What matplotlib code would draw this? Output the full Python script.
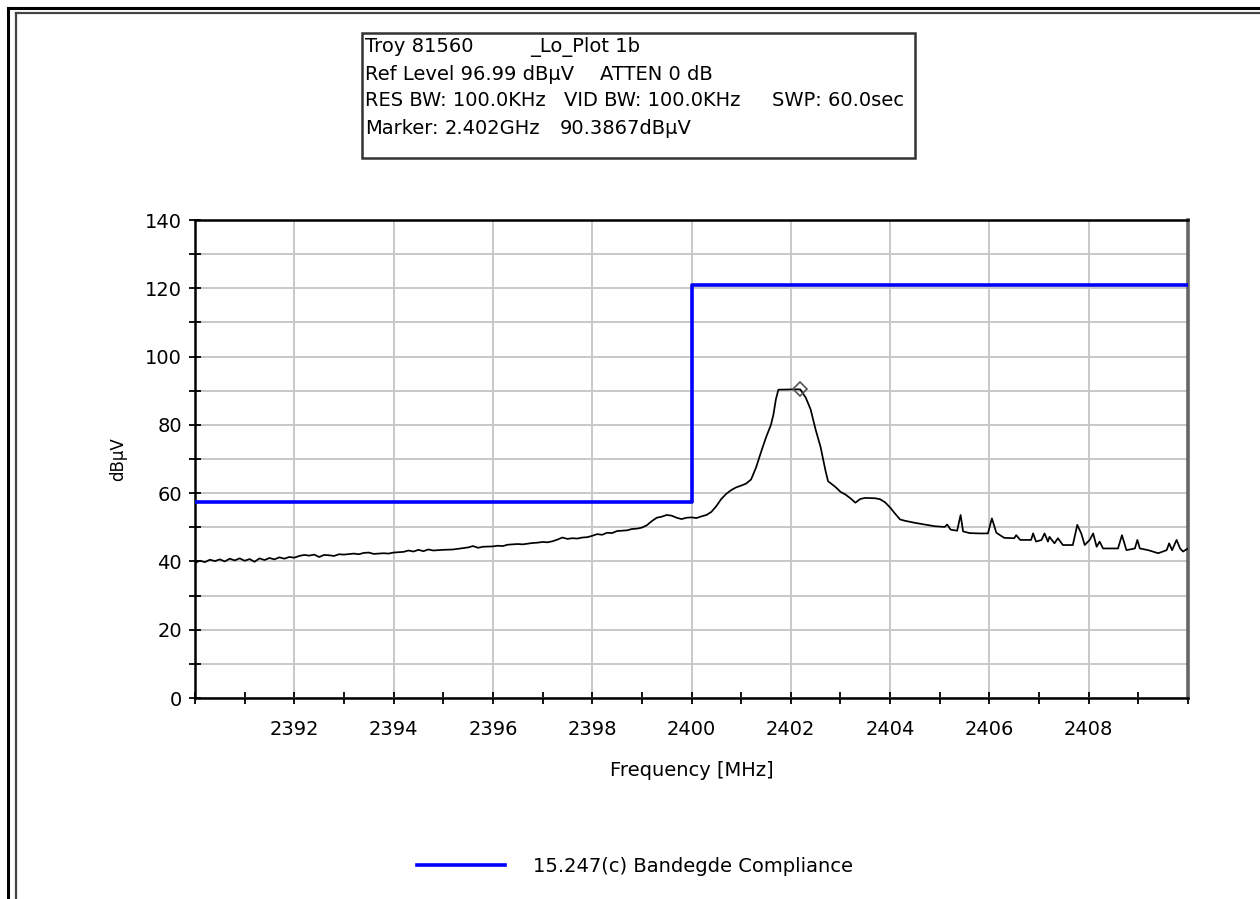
import matplotlib
matplotlib.use("Agg")
import matplotlib.pyplot as plt
from matplotlib.lines import Line2D
from matplotlib.patches import Rectangle
from matplotlib.ticker import MultipleLocator

# spectrum analyser sweep, bandedge low channel
freq_mhz = [
    2390.0, 2390.1, 2390.2, 2390.3, 2390.4, 2390.5, 2390.6, 2390.7, 2390.8, 2390.9,
    2391.0, 2391.1, 2391.2, 2391.3, 2391.4, 2391.5, 2391.6, 2391.7, 2391.8, 2391.9,
    2392.0, 2392.1, 2392.2, 2392.3, 2392.4, 2392.5, 2392.6, 2392.7, 2392.8, 2392.9,
    2393.0, 2393.2, 2393.3, 2393.4, 2393.5, 2393.6, 2393.8, 2393.9, 2394.0, 2394.2,
    2394.3, 2394.4, 2394.5, 2394.6, 2394.7, 2394.8, 2394.9, 2395.0, 2395.2, 2395.3,
    2395.4, 2395.5, 2395.6, 2395.7, 2395.8, 2396.0, 2396.1, 2396.2, 2396.3, 2396.4,
    2396.5, 2396.6, 2396.8, 2396.9, 2397.0, 2397.1, 2397.2, 2397.3, 2397.4, 2397.5,
    2397.6, 2397.7, 2397.8, 2397.9, 2398.0, 2398.1, 2398.2, 2398.3, 2398.4, 2398.5,
    2398.6, 2398.7, 2398.8, 2398.9, 2399.0, 2399.1, 2399.2, 2399.3, 2399.4, 2399.5,
    2399.6, 2399.7, 2399.8, 2399.9, 2400.0, 2400.1, 2400.2, 2400.3, 2400.4, 2400.5,
    2400.6, 2400.7, 2400.8, 2400.9, 2401.0, 2401.1, 2401.2, 2401.3, 2401.4, 2401.5,
    2401.6, 2401.65, 2401.7, 2401.75, 2402.1, 2402.19, 2402.3, 2402.4, 2402.5, 2402.6,
    2402.7, 2402.75, 2402.9, 2403.0, 2403.1, 2403.2, 2403.3, 2403.4, 2403.5, 2403.7,
    2403.8, 2403.9, 2404.0, 2404.1, 2404.2, 2404.3, 2404.5, 2404.7, 2404.9, 2405.1,
    2405.15, 2405.22, 2405.35, 2405.42, 2405.47, 2405.6, 2405.8, 2405.97, 2406.05, 2406.14,
    2406.3, 2406.5, 2406.54, 2406.62, 2406.84, 2406.88, 2406.94, 2407.05, 2407.11, 2407.18,
    2407.21, 2407.31, 2407.38, 2407.48, 2407.68, 2407.77, 2407.85, 2407.92, 2408.02, 2408.09,
    2408.16, 2408.22, 2408.29, 2408.59, 2408.67, 2408.76, 2408.93, 2408.98, 2409.03, 2409.2,
    2409.4, 2409.57, 2409.62, 2409.68, 2409.77, 2409.84, 2409.9, 2410.0,
]
level_dbuv = [
    39.6, 40.2, 39.8, 40.5, 40.1, 40.6, 40.0, 40.8, 40.3, 40.9,
    40.2, 40.7, 39.9, 40.9, 40.4, 41.0, 40.6, 41.2, 40.8, 41.3,
    41.1, 41.6, 41.9, 41.7, 42.0, 41.3, 41.9, 41.8, 41.6, 42.1,
    42.0, 42.3, 42.1, 42.5, 42.6, 42.2, 42.4, 42.3, 42.6, 42.8,
    43.2, 42.9, 43.4, 43.0, 43.5, 43.2, 43.3, 43.4, 43.5, 43.7,
    43.9, 44.1, 44.5, 44.0, 44.3, 44.4, 44.6, 44.5, 44.9, 45.0,
    45.1, 45.0, 45.4, 45.5, 45.7, 45.6, 45.9, 46.4, 47.0, 46.6,
    46.8, 46.7, 47.0, 47.1, 47.5, 48.0, 47.8, 48.4, 48.3, 48.9,
    49.0, 49.1, 49.5, 49.6, 49.9, 50.6, 51.8, 52.8, 53.1, 53.6,
    53.4, 52.8, 52.4, 52.8, 52.9, 52.7, 53.2, 53.6, 54.5, 56.2,
    58.3, 59.8, 60.9, 61.7, 62.2, 62.8, 64.0, 67.5, 72.0, 76.3,
    80.0, 83.0, 87.5, 90.3, 90.4, 90.39, 88.0, 84.5, 78.6, 73.5,
    66.5, 63.5, 61.8, 60.4, 59.6, 58.5, 57.2, 58.3, 58.6, 58.5,
    58.2, 57.3, 55.8, 54.0, 52.3, 51.9, 51.3, 50.8, 50.3, 50.1,
    50.8, 49.3, 49.0, 53.6, 48.8, 48.3, 48.2, 48.2, 52.6, 48.4,
    46.9, 46.8, 47.7, 46.3, 46.3, 48.2, 45.8, 46.3, 48.2, 45.8,
    47.2, 45.3, 46.8, 44.8, 44.8, 50.7, 48.2, 44.8, 46.3, 48.2,
    44.3, 45.8, 43.8, 43.8, 47.7, 43.3, 43.8, 46.3, 43.8, 43.3,
    42.4, 43.3, 45.3, 43.3, 46.3, 43.8, 42.9, 43.8,
]

# 15.247(c) bandedge limit
limit_freq = [2390.0, 2400.0, 2400.0, 2410.0]
limit_level = [57.5, 57.5, 121.0, 121.0]

marker_freq = 2402.19
marker_level = 90.3867

# header rows: list of (text, left pixel) per row
header_rows = [
    [("Troy 81560", 365), ("_Lo_Plot 1b", 530)],
    [("Ref Level 96.99 dBµV", 365), ("ATTEN 0 dB", 600)],
    [("RES BW: 100.0KHz", 365), ("VID BW: 100.0KHz", 564), ("SWP: 60.0sec", 772)],
    [("Marker:", 365), ("2.402GHz", 445), ("90.3867dBµV", 560)],
]
row_y = [47, 74, 101, 128]

W, H = 1260, 899
fig = plt.figure(figsize=(W / 100, H / 100), dpi=100)
fig.patch.set_facecolor("white")


def fx(px):
    return px / W


def fy(py):
    return 1 - py / H


# window frame lines
fig.add_artist(Line2D([fx(8), fx(8)], [0, fy(8)], color="black", lw=2.2))
fig.add_artist(Line2D([fx(8), 1], [fy(8), fy(8)], color="black", lw=2.2))
fig.add_artist(Line2D([fx(16), fx(16)], [0, fy(13)], color="#444444", lw=1.6))
fig.add_artist(Line2D([fx(16), 1], [fy(13), fy(13)], color="#444444", lw=1.6))

ax = fig.add_axes([fx(195), fy(698), fx(1188) - fx(195), fy(220) - fy(698)])
ax.plot(limit_freq, limit_level, color="#0000ff", lw=2.6, zorder=3,
        label="15.247(c) Bandegde Compliance")
ax.plot(freq_mhz, level_dbuv, color="black", lw=1.25, zorder=4)
ax.plot([marker_freq], [marker_level], marker="D", ms=7, mfc="none",
        mec="#555555", mew=1.2, zorder=5)

ax.set_xlim(2390, 2410)
ax.set_ylim(0, 140)
ax.xaxis.set_minor_locator(MultipleLocator(1))
ax.yaxis.set_major_locator(MultipleLocator(20))
ax.yaxis.set_minor_locator(MultipleLocator(10))
ax.set_xticks(range(2392, 2410, 2))
ax.set_xticklabels([str(v) for v in range(2392, 2410, 2)])
ax.grid(True, which="major", axis="x", color="#c8c8c8", lw=1.4)
ax.grid(True, which="both", axis="y", color="#c8c8c8", lw=1.4)
ax.set_axisbelow(True)

ax.tick_params(axis="both", which="major", direction="inout", length=9,
               width=1.3, labelsize=14, pad=5)
ax.tick_params(axis="both", which="minor", direction="inout", length=9,
               width=1.3)
ax.tick_params(axis="x", which="major", pad=11)
for side in ("left", "bottom", "top"):
    ax.spines[side].set_linewidth(1.8)
    ax.spines[side].set_color("black")
ax.spines["right"].set_linewidth(2.6)
ax.spines["right"].set_color("#666666")

ax.set_xlabel("Frequency [MHz]", fontsize=14, labelpad=16)
ax.set_ylabel("dBµV", fontsize=12, labelpad=13)

# info box above the plot
fig.add_artist(Rectangle((fx(362), fy(158)), fx(915) - fx(362), fy(33) - fy(158),
                         fill=False, ec="#333333", lw=1.8))
for y, row in zip(row_y, header_rows):
    for text, x in row:
        fig.text(fx(x), fy(y), text, fontsize=14, va="center", ha="left")

fig.legend(loc="center", bbox_to_anchor=(fx(635), fy(866)), frameon=False,
           fontsize=14, handlelength=4.5, handletextpad=1.45)

fig.savefig("out.png", dpi=100)
